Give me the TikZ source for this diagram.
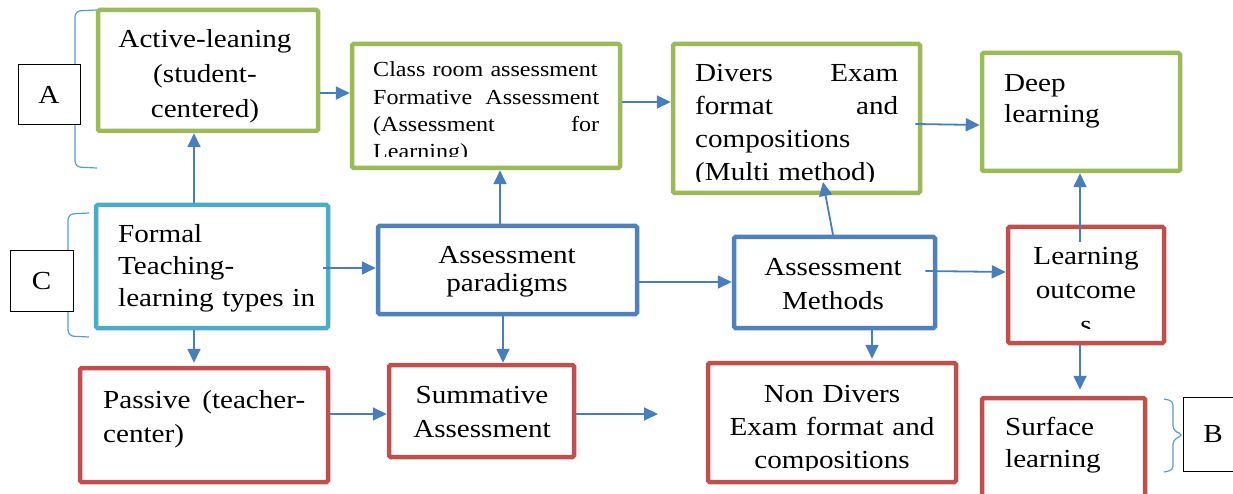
\documentclass[tikz,border=0pt]{standalone}
\usepackage{fontspec}
\setmainfont{Liberation Serif}[FakeStretch=1.12]
\usetikzlibrary{arrows.meta,calc}
\definecolor{grn}{HTML}{9BBB59}
\definecolor{cyn}{HTML}{4BACC6}
\definecolor{blu}{HTML}{4F81BD}
\definecolor{rd}{HTML}{C0504D}
\definecolor{arrc}{HTML}{4A7EBB}
\definecolor{brk}{HTML}{5B9BD5}
\newcommand\fsz[2]{\fontsize{#1}{#2}\selectfont}
\begin{document}
\begin{tikzpicture}[x=1pt,y=-1pt,
  box/.style={draw, line width=4.5pt, rounded corners=1.5pt, inner sep=0pt, fill=white},
  gbox/.style={box, draw=grn},
  cbox/.style={box, draw=cyn},
  bbox/.style={box, draw=blu},
  rbox/.style={box, draw=rd},
  lbl/.style={draw=black, line width=1pt, fill=white, inner sep=0pt, font=\fsz{26}{30}},
  txtc/.style={inner sep=0pt, anchor=base, align=center},
  txtl/.style={inner sep=0pt, anchor=base west, align=left},
  arr/.style={draw=arrc, line width=1.8pt, -{Triangle[length=14pt,width=13pt]}},
  brace/.style={draw=brk, line width=1.2pt, rounded corners=6pt}
]
\useasboundingbox[fill=white] (0,0) rectangle (1233,494);

% brackets
\draw[brace] (97,10) -- (75,11) -- (75,167) -- (97,168);
\draw[brace] (89,213) -- (68,214) -- (68,336) -- (89,337);
\draw[brace, rounded corners=4pt] (1164,399) -- (1173,401) -- (1173,430) -- (1183,435) -- (1173,440) -- (1173,470) -- (1164,472);

% label boxes
\node[lbl, minimum width=62pt, minimum height=60pt] (A) at (49,95) {A};
\node[lbl, minimum width=63pt, minimum height=60pt] (C) at (41.5,281) {C};
\node[lbl, minimum width=60pt, minimum height=74pt] (B) at (1213,434) {B};

% boxes
\node[gbox, minimum width=220pt, minimum height=121pt] (act) at (208,70.5) {};
\node[gbox, minimum width=268pt, minimum height=124pt] (cls) at (486,106) {};
\node[gbox, minimum width=247pt, minimum height=149pt] (div) at (796.5,118.5) {};
\node[gbox, minimum width=198pt, minimum height=118pt] (deep) at (1081,112) {};
\node[cbox, minimum width=232pt, minimum height=123pt] (form) at (212,266.5) {};
\node[bbox, minimum width=259pt, minimum height=88pt] (par) at (507.5,270) {};
\node[bbox, minimum width=201pt, minimum height=91pt] (meth) at (834.5,282.5) {};
\node[rbox, minimum width=156pt, minimum height=116pt] (lo) at (1086,285) {};
\node[rbox, minimum width=248pt, minimum height=114pt] (pass) at (204,425) {};
\node[rbox, minimum width=185pt, minimum height=92pt] (summ) at (481.5,411) {};
\node[rbox, minimum width=248pt, minimum height=119pt] (nond) at (832,422.5) {};
\node[rbox, minimum width=163pt, minimum height=99pt] (surf) at (1063.5,447.5) {};

% texts
\node[txtc, text width=210pt, font=\fsz{26}{35}] (tact) at (205,48) {Active-leaning\\(student-\\centered)};
\begin{scope}
\clip (355,45) rectangle (618,157);
\node[txtl, text width=226pt, font=\fsz{21.5}{27.3}] (tcls) at (373,77) {Class room assessment\\Formative\hfill Assessment\\(Assessment\hfill for\\Learning)};
\end{scope}
\begin{scope}
\clip (675,45) rectangle (918,182);
\node[txtl, text width=203pt, font=\fsz{26}{33}] (tdiv) at (695,82) {Divers\hfill Exam\\format\hfill and\\compositions\\(Multi method)};
\end{scope}
\node[txtl, text width=170pt, font=\fsz{26}{31}] (tdeep) at (1004,92) {Deep\\learning};
\node[txtl, text width=205pt, font=\fsz{26}{32}] (tform) at (118,243) {Formal\\Teaching-\\learning types in};
\node[txtc, text width=240pt, font=\fsz{26}{28.5}] (tpar) at (507,263) {Assessment\\paradigms};
\node[txtc, text width=190pt, font=\fsz{26}{34}] (tmeth) at (833,275) {Assessment\\Methods};
\begin{scope}
\clip (1010,228) rectangle (1162,328);
\node[txtc, text width=150pt, font=\fsz{26}{34}] (tlo) at (1086,265) {Learning\\outcome\\s};
\end{scope}
\node[txtl, text width=202pt, font=\fsz{26}{34}] (tpass) at (103,408) {Passive\hfill (teacher-\\center)};
\node[txtc, text width=180pt, font=\fsz{26}{34}] (tsumm) at (482,403) {Summative\\Assessment};
\begin{scope}
\clip (710,364) rectangle (954,470);
\node[txtc, text width=240pt, font=\fsz{26}{33}] (tnond) at (832,402) {Non Divers\\Exam format and\\compositions};
\end{scope}
\node[txtl, text width=140pt, font=\fsz{26}{32}] (tsurf) at (1005,435) {Surface\\learning};

% connectors
\coordinate (free) at (658,414);
\draw[arr] ($(form.north)+(-18,0)$) -- ($(act.south)+(-14,0)$);
\draw[arr] ($(act.east)+(0,22.5)$) -- ($(cls.west)+(0,-13)$);
\draw[arr] ($(cls.east)+(0,-4)$) -- ($(div.west)+(0,-16.5)$);
\draw[arr] ($(div.east)+(-7,5.5)$) -- ($(deep.west)+(0,13)$);
\draw[arr] ($(par.north)+(-7.5,0)$) -- ($(cls.south)+(14,0)$);
\draw[arr] ($(form.east)+(-7,1.5)$) -- ($(par.west)+(0,-2)$);
\draw[arr] ($(par.east)+(0,12)$) -- ($(meth.west)+(0,-0.5)$);
\draw[arr] ($(meth.north)+(-1.5,0)$) -- ($(div.center)+(26.5,63.5)$);
\draw[arr] ($(meth.east)+(-12,-11.5)$) -- ($(lo.west)+(0,-13)$);
\draw[arr] ($(lo.center)+(-6,-43)$) -- ($(deep.south)+(-1,0)$);
\draw[arr, shorten >=6pt] ($(lo.south)+(-6,0)$) -- ($(surf.north)+(16.5,0)$);
\draw[arr, shorten >=3pt] ($(form.south)+(-18,0)$) -- ($(pass.north)+(-10,0)$);
\draw[arr] ($(par.south)+(-4.5,0)$) -- ($(summ.north)+(21.5,0)$);
\draw[arr, shorten >=2pt] ($(meth.south)+(37.5,0)$) -- ($(nond.north)+(40,0)$);
\draw[arr] ($(pass.east)+(0,-11)$) -- ($(summ.west)+(0,3)$);
\draw[arr] ($(summ.east)+(0,3)$) -- (free);
\end{tikzpicture}
\end{document}
